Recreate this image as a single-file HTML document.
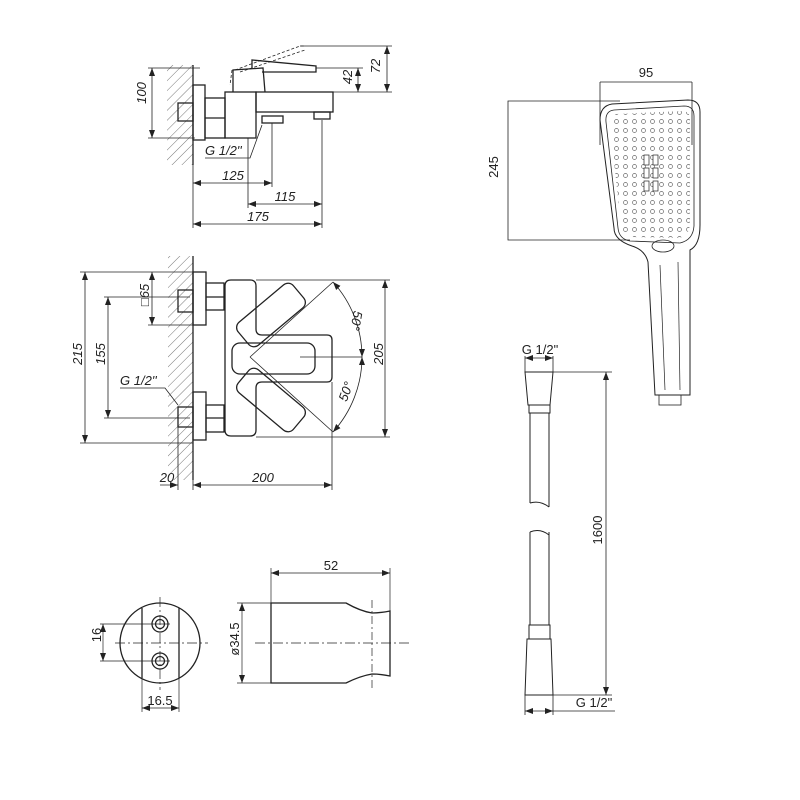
<!DOCTYPE html>
<html><head><meta charset="utf-8"><style>
html,body{margin:0;padding:0;background:#fff}
svg{display:block}
text{font-family:"Liberation Sans",sans-serif;fill:#222}
.i{font-style:italic}
</style></head><body>
<svg width="800" height="800" viewBox="0 0 800 800" xmlns="http://www.w3.org/2000/svg">
<defs>
<pattern id="h" width="7" height="7" patternUnits="userSpaceOnUse" patternTransform="rotate(45)">
<line x1="0" y1="0" x2="0" y2="7" stroke="#555" stroke-width="0.8"/></pattern>
<pattern id="d" width="9" height="9" patternUnits="userSpaceOnUse">
<circle cx="4.5" cy="4.5" r="2" fill="none" stroke="#666" stroke-width="0.7"/></pattern>
<marker id="a" markerWidth="8" markerHeight="6" refX="8" refY="3" orient="auto-start-reverse" markerUnits="userSpaceOnUse"><path d="M0,0 L8,3 L0,6z" fill="#222"/></marker>
</defs>
<g fill="none" stroke="#222" stroke-width="1.3">
<!-- TOP SIDE VIEW -->
<rect x="167" y="65" width="26" height="100" fill="url(#h)" stroke="none"/>
<line x1="193" y1="65" x2="193" y2="165"/>
<rect x="193" y="85" width="12" height="55"/>
<rect x="178" y="103" width="15" height="18"/>
<rect x="205" y="98" width="20" height="40"/>
<line x1="205" y1="118" x2="225" y2="118"/>
<rect x="225" y="92" width="31" height="46"/>
<rect x="256" y="92" width="77" height="20"/>
<rect x="262" y="116" width="21" height="7"/>
<rect x="314" y="112" width="16" height="7"/>
<path d="M233,92 L233,70 L263,68 L265,92"/>
<path d="M252,68 L252,60 L316,66 L316,72 L262,72"/>
<path d="M232,70 L230,85 M235,70 L300,46 L305,46 M240,72 L305,50" stroke-dasharray="3,2" stroke-width="0.8"/>
<g stroke-width="0.8">
<line x1="152" y1="68" x2="152" y2="138" marker-start="url(#a)" marker-end="url(#a)"/>
<line x1="148" y1="68" x2="200" y2="68"/><line x1="148" y1="138" x2="195" y2="138"/>
<line x1="387" y1="46" x2="387" y2="92" marker-start="url(#a)" marker-end="url(#a)"/>
<line x1="300" y1="46" x2="392" y2="46"/><line x1="333" y1="92" x2="392" y2="92"/>
<line x1="358" y1="68" x2="358" y2="92" marker-start="url(#a)" marker-end="url(#a)"/>
<line x1="316" y1="68" x2="363" y2="68"/>
<line x1="193" y1="183" x2="272" y2="183" marker-start="url(#a)" marker-end="url(#a)"/>
<line x1="193" y1="140" x2="193" y2="228"/>
<line x1="272" y1="123" x2="272" y2="187"/>
<line x1="248" y1="138" x2="248" y2="208"/>
<line x1="322" y1="120" x2="322" y2="228"/>
<line x1="248" y1="204" x2="322" y2="204" marker-start="url(#a)" marker-end="url(#a)"/>
<line x1="193" y1="224" x2="322" y2="224" marker-start="url(#a)" marker-end="url(#a)"/>
<path d="M205,158 L250,158 L262,125"/>
</g>
<!-- FRONT VIEW -->
<rect x="168" y="256" width="25" height="224" fill="url(#h)" stroke="none"/>
<line x1="193" y1="256" x2="193" y2="480"/>
<rect x="193" y="272" width="13" height="53"/>
<rect x="193" y="392" width="13" height="48"/>
<rect x="178" y="290" width="15" height="22"/>
<rect x="178" y="407" width="15" height="20"/>
<rect x="206" y="283" width="18" height="27"/><line x1="206" y1="297" x2="224" y2="297"/>
<rect x="206" y="405" width="18" height="27"/><line x1="206" y1="418" x2="224" y2="418"/>
<path d="M231,280 L250,280 Q256,280 256,286 L256,329 Q256,335 262,335 L327,335 Q332,335 332,340 L332,377 Q332,382 327,382 L262,382 Q256,382 256,388 L256,430 Q256,436 250,436 L231,436 Q225,436 225,430 L225,286 Q225,280 231,280Z"/>
<rect x="232" y="343" width="83" height="31" rx="8"/>
<rect x="235" y="300" width="72" height="30" rx="7" transform="rotate(-40 271 315)"/>
<rect x="235" y="385" width="72" height="30" rx="7" transform="rotate(40 271 400)"/>
<g stroke-width="0.8">
<line x1="250" y1="357" x2="333" y2="282"/><line x1="250" y1="357" x2="333" y2="432"/>
<line x1="300" y1="357" x2="362" y2="357"/>
<path d="M333,282 A112,112 0 0 1 362,357" marker-start="url(#a)" marker-end="url(#a)"/>
<path d="M362,357 A112,112 0 0 1 333,432" marker-start="url(#a)" marker-end="url(#a)"/>
<line x1="85" y1="272" x2="85" y2="443" marker-start="url(#a)" marker-end="url(#a)"/>
<line x1="80" y1="272" x2="193" y2="272"/><line x1="80" y1="443" x2="193" y2="443"/>
<line x1="108" y1="297" x2="108" y2="418" marker-start="url(#a)" marker-end="url(#a)"/>
<line x1="104" y1="297" x2="190" y2="297"/><line x1="104" y1="418" x2="190" y2="418"/>
<line x1="152" y1="272" x2="152" y2="325" marker-start="url(#a)" marker-end="url(#a)"/>
<line x1="148" y1="325" x2="193" y2="325"/>
<line x1="385" y1="280" x2="385" y2="437" marker-start="url(#a)" marker-end="url(#a)"/>
<line x1="256" y1="280" x2="390" y2="280"/><line x1="256" y1="437" x2="390" y2="437"/>
<line x1="178" y1="427" x2="178" y2="490"/><line x1="332" y1="382" x2="332" y2="490"/>
<line x1="160" y1="485" x2="178" y2="485" marker-end="url(#a)"/>
<line x1="193" y1="485" x2="332" y2="485" marker-start="url(#a)" marker-end="url(#a)"/>
<line x1="193" y1="480" x2="193" y2="490"/>
<path d="M120,388 L165,388 L178,405"/>
</g>
<!-- SHOWER HEAD -->
<g stroke-width="0.8">
<line x1="600" y1="82" x2="692" y2="82"/>
<line x1="600" y1="82" x2="600" y2="145"/><line x1="692" y1="82" x2="692" y2="145"/>
<path d="M620,101 L508,101 L508,240 L630,240"/>
</g>
<path d="M612,104 L688,100 Q700,100 700,112 L700,225 Q700,245 690,250 L690,395 L655,395 L648,262 Q645,250 632,246 Q614,240 614,228 L600,120 Q600,106 612,104Z" stroke-width="1"/>
<path d="M614,110 L684,106 Q694,106 694,116 L694,226 Q693,240 680,243 L630,241 Q619,239 618,228 L606,122 Q605,111 614,110Z" stroke-width="0.8"/>
<path d="M616,114 L682,111 Q690,111 690,119 L690,224 Q689,236 679,238 L632,237 Q622,235 621,226 L610,124 Q609,115 616,114Z" fill="url(#d)" stroke="none"/>
<rect x="644" y="155" width="5" height="10" fill="#fff" stroke-width="0.7"/><rect x="653" y="155" width="5" height="10" fill="#fff" stroke-width="0.7"/>
<rect x="644" y="168" width="5" height="10" fill="#fff" stroke-width="0.7"/><rect x="653" y="168" width="5" height="10" fill="#fff" stroke-width="0.7"/>
<rect x="644" y="181" width="5" height="10" fill="#fff" stroke-width="0.7"/><rect x="653" y="181" width="5" height="10" fill="#fff" stroke-width="0.7"/>
<ellipse cx="663" cy="246" rx="11" ry="6" stroke-width="0.8"/>
<line x1="660" y1="265" x2="665" y2="390" stroke-width="0.7"/><line x1="678" y1="262" x2="680" y2="390" stroke-width="0.7"/>
<rect x="659" y="395" width="22" height="10" stroke-width="0.8"/>
<!-- HOSE -->
<g stroke-width="1">
<path d="M525,372 L553,372 L550,405 L528,405Z"/>
<rect x="529" y="405" width="21" height="8"/>
<path d="M530,413 L530,503 M549,413 L549,507 M530,503 Q540,500 549,507"/>
<path d="M530,532 L530,625 M549,532 L549,625 M530,532 Q540,528 549,535"/>
<rect x="529" y="625" width="21" height="14"/>
<path d="M527,639 L551,639 L553,695 L525,695Z"/>
</g>
<g stroke-width="0.8">
<line x1="525" y1="356" x2="525" y2="372"/><line x1="553" y1="356" x2="553" y2="372"/>
<line x1="525" y1="358" x2="553" y2="358" marker-start="url(#a)" marker-end="url(#a)"/>
<line x1="553" y1="372" x2="612" y2="372"/><line x1="553" y1="695" x2="612" y2="695"/>
<line x1="606" y1="372" x2="606" y2="695" marker-start="url(#a)" marker-end="url(#a)"/>
<line x1="525" y1="695" x2="525" y2="715"/><line x1="553" y1="695" x2="553" y2="715"/>
<line x1="525" y1="711" x2="553" y2="711" marker-start="url(#a)" marker-end="url(#a)"/>
<line x1="553" y1="711" x2="615" y2="711"/>
</g>
<!-- BOTTOM LEFT -->
<circle cx="160" cy="643" r="40"/>
<line x1="142" y1="608" x2="142" y2="678"/><line x1="179" y1="608" x2="179" y2="678"/>
<circle cx="160" cy="624" r="8"/><circle cx="160" cy="624" r="4.5"/>
<circle cx="160" cy="661" r="8"/><circle cx="160" cy="661" r="4.5"/>
<g stroke-width="0.7">
<line x1="115" y1="643" x2="208" y2="643" stroke-dasharray="10,3,2,3"/>
<line x1="160" y1="597" x2="160" y2="690" stroke-dasharray="10,3,2,3"/>
<line x1="100" y1="624" x2="170" y2="624"/><line x1="100" y1="661" x2="170" y2="661"/>
<line x1="103" y1="624" x2="103" y2="661" marker-start="url(#a)" marker-end="url(#a)"/>
<line x1="142" y1="678" x2="142" y2="712"/><line x1="179" y1="678" x2="179" y2="712"/>
<line x1="142" y1="708" x2="179" y2="708" marker-start="url(#a)" marker-end="url(#a)"/>
</g>
<path d="M271,603 L346,603 Q360,611 372,613 Q380,613 390,611 L390,676 Q380,674 372,674 Q360,676 346,683 L271,683Z"/>
<g stroke-width="0.7">
<line x1="255" y1="643" x2="410" y2="643" stroke-dasharray="10,3,2,3"/>
<line x1="372" y1="600" x2="372" y2="690" stroke-dasharray="8,3,2,3"/>
<line x1="271" y1="568" x2="271" y2="603"/><line x1="390" y1="568" x2="390" y2="611"/>
<line x1="271" y1="573" x2="390" y2="573" marker-start="url(#a)" marker-end="url(#a)"/>
<line x1="237" y1="603" x2="271" y2="603"/><line x1="237" y1="683" x2="271" y2="683"/>
<line x1="242" y1="603" x2="242" y2="683" marker-start="url(#a)" marker-end="url(#a)"/>
</g>
</g>
<!-- TEXT -->
<g font-size="13">
<text class="i" x="150" y="103" transform="rotate(-90 143 100)" text-anchor="middle">100</text>
<text class="i" x="383" y="69" transform="rotate(-90 380 69)" text-anchor="middle">72</text>
<text class="i" x="355" y="80" transform="rotate(-90 352 80)" text-anchor="middle">42</text>
<text class="i" x="205" y="155">G 1/2''</text>
<text class="i" x="233" y="180" text-anchor="middle">125</text>
<text class="i" x="285" y="201" text-anchor="middle">115</text>
<text class="i" x="258" y="221" text-anchor="middle">175</text>
<text class="i" x="82" y="362" transform="rotate(-90 78 358)" text-anchor="middle">215</text>
<text class="i" x="105" y="362" transform="rotate(-90 101 358)" text-anchor="middle">155</text>
<text class="i" x="149" y="303" transform="rotate(-90 145 299)" text-anchor="middle">□65</text>
<text class="i" x="383" y="362" transform="rotate(-90 379 358)" text-anchor="middle">205</text>
<text class="i" x="120" y="385">G 1/2''</text>
<text class="i" x="352" y="320" transform="rotate(100 352 320)" text-anchor="middle">50°</text>
<text class="i" x="350" y="393" transform="rotate(-70 350 393)" text-anchor="middle">50°</text>
<text class="i" x="167" y="482" text-anchor="middle">20</text>
<text class="i" x="263" y="482" text-anchor="middle">200</text>
<text x="646" y="77" text-anchor="middle">95</text>
<text x="498" y="175" transform="rotate(-90 494 171)" text-anchor="middle">245</text>
<text x="540" y="354" text-anchor="middle">G 1/2"</text>
<text x="602" y="538" transform="rotate(-90 598 534)" text-anchor="middle">1600</text>
<text x="594" y="707" text-anchor="middle">G 1/2"</text>
<text x="101" y="643" transform="rotate(-90 97 639)" text-anchor="middle">16</text>
<text x="160" y="705" text-anchor="middle">16.5</text>
<text x="331" y="570" text-anchor="middle">52</text>
<text x="239" y="647" transform="rotate(-90 235 643)" text-anchor="middle">ø34.5</text>
</g>
</svg>
</body></html>
